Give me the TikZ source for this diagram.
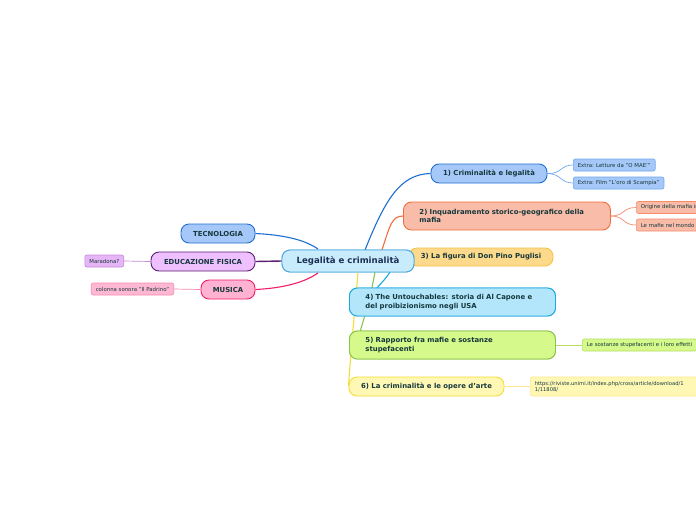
\documentclass[tikz,border=0pt]{standalone}
\usepackage{fontspec}
\setmainfont{DejaVu Sans}
\definecolor{txt}{HTML}{15383C}
\definecolor{ctxt}{HTML}{1C2F55}
\definecolor{cfill}{HTML}{C9ECFC}\definecolor{cdraw}{HTML}{4EA8DE}
\definecolor{bfill}{HTML}{A6C8F8}\definecolor{bdraw}{HTML}{1F6FD1}\definecolor{bsub}{HTML}{6FA6EF}
\definecolor{sfill}{HTML}{F9BCA8}\definecolor{sdraw}{HTML}{F26D3D}\definecolor{ssub}{HTML}{F58D6C}
\definecolor{ofill}{HTML}{FDD98B}\definecolor{odraw}{HTML}{F6C445}
\definecolor{lfill}{HTML}{B3E6FB}\definecolor{ldraw}{HTML}{1BA9E3}
\definecolor{gfill}{HTML}{D5F98A}\definecolor{gdraw}{HTML}{8BC34A}\definecolor{gsub}{HTML}{B5DE63}
\definecolor{yfill}{HTML}{FFF8B5}\definecolor{ydraw}{HTML}{F5DC35}\definecolor{ysub}{HTML}{FBE98B}
\definecolor{pfill}{HTML}{EEC0FF}\definecolor{pdraw}{HTML}{5C1F73}\definecolor{psfill}{HTML}{E6B5F5}\definecolor{psub}{HTML}{C589DA}
\definecolor{mfill}{HTML}{FFB2D1}\definecolor{mdraw}{HTML}{EF1D6A}\definecolor{msfill}{HTML}{FFB8D3}\definecolor{msub}{HTML}{F78AB0}
\tikzset{
  mainbox/.style={draw, line width=0.9pt, rounded corners=8pt, inner sep=0pt, text=txt,
     font=\fontsize{6.9}{8.6}\selectfont\bfseries},
  subbox/.style={draw, line width=0.6pt, rounded corners=2pt, inner xsep=4.5pt, inner ysep=0pt, text=txt,
     font=\fontsize{5.4}{6.2}\selectfont, minimum height=12pt},
  mainline/.style={line width=1.1pt},
  subline/.style={line width=0.7pt},
  cbox/.style={mainbox, fill=cfill, draw=cdraw, minimum width=132pt, minimum height=22pt,
      font=\fontsize{8.6}{9}\selectfont\bfseries, text=ctxt},
  b4box/.style={mainbox, fill=lfill, draw=ldraw, anchor=west, minimum height=28pt, inner xsep=16pt,
      text width=174pt, align=left},
  b5box/.style={mainbox, fill=gfill, draw=gdraw, anchor=west, minimum height=28pt, inner xsep=16pt,
      text width=174pt, align=left},
}
\begin{document}
\begin{tikzpicture}[x=1pt,y=-1pt]
\useasboundingbox (0,0) rectangle (696,520);
\clip (0,0) rectangle (696,520);
\fill[white] (0,0) rectangle (696,520);

\coordinate (c1) at (365,250);
\coordinate (c2) at (382,250);
\coordinate (c4) at (390,272);
\coordinate (c5) at (375,272);
\coordinate (c6) at (358,272);
\coordinate (cl1) at (318,249);
\coordinate (cl3) at (318,273);

% nodes
\node[mainbox, fill=ofill, draw=odraw, minimum width=144pt, minimum height=18pt] (b3) at (481,257) {3) La figura di Don Pino Puglisi};
\node[cbox] (c) at (348,261) {Legalità e criminalità};

\node[mainbox, fill=bfill, draw=bdraw, minimum width=116pt, minimum height=19pt] (b1) at (489,173.5) {1) Criminalità e legalità};
\node[subbox, fill=bfill, draw=bsub, anchor=west] (e1) at (573,165) {Extra: Letture da "O MAE'"};
\node[subbox, fill=bfill, draw=bsub, anchor=west] (e2) at (573,183) {Extra: Film "L'oro di Scampia"};

\node[mainbox, fill=sfill, draw=sdraw, anchor=west, minimum height=28pt, inner xsep=16pt,
      text width=175pt, align=left] (b2) at (403,216) {2) Inquadramento storico-geografico della\\mafia};
\node[subbox, fill=sfill, draw=ssub, anchor=west] (s1) at (636,207.5) {Origine della mafia in Italia};
\node[subbox, fill=sfill, draw=ssub, anchor=west] (s2) at (636,225) {Le mafie nel mondo\hspace*{12pt}};

\node[b4box] (b4) at (349,302) {4) The Untouchables: storia di Al Capone e\\del proibizionismo negli USA};
\node[b5box] (b5) at (349,345) {5) Rapporto fra mafie e sostanze\\stupefacenti};
\node[subbox, fill=gfill, draw=gsub, anchor=west] (g1) at (582,345) {Le sostanze stupefacenti e i loro effetti};

\node[mainbox, fill=yfill, draw=ydraw, minimum width=155pt, minimum height=19pt] (b6) at (426.5,386.5) {6) La criminalità e le opere d'arte};
\node[subbox, fill=yfill, draw=ysub, anchor=west, minimum height=19pt, text width=200pt, align=left,
      font=\fontsize{5.2}{6}\selectfont] (y1) at (530,386.5) {https://riviste.unimi.it/index.php/cross/article/download/1\\1/11808/};

\node[mainbox, fill=bfill, draw=bdraw, minimum width=74pt, minimum height=19pt] (t) at (218,233.5) {TECNOLOGIA};
\node[mainbox, fill=pfill, draw=pdraw, minimum width=104pt, minimum height=19pt] (ef) at (203,261.5) {EDUCAZIONE FISICA};
\node[subbox, fill=psfill, draw=psub, anchor=east] (mar) at (124,261) {Maradona?};
\node[mainbox, fill=mfill, draw=mdraw, minimum width=54pt, minimum height=19pt] (mu) at (228,289.5) {MUSICA};
\node[subbox, fill=msfill, draw=msub, anchor=east] (cs) at (174,289) {colonna sonora "Il Padrino"};

% main connectors
\draw[mainline, bdraw] (c1) .. controls (385,200) and (400,174) .. (b1.west);
\draw[mainline, sdraw] (c2) .. controls (390,225) and (392,216) .. (b2.west);
\draw[mainline, ldraw] (c4) .. controls (385,280) and (380,284) .. (377,288);
\draw[mainline, gdraw] (c5) .. controls (370,300) and (364,318) .. (360,332);
\draw[mainline, ydraw] (c6) .. controls (354,320) and (350,360) .. (b6.west);
\draw[mainline, bdraw] (t.east) .. controls (285,235) and (305,240) .. (cl1);
\draw[mainline, pdraw, line width=1.4pt] (ef.east) -- (c.west);
\draw[mainline, mdraw] (mu.east) .. controls (285,288) and (305,282) .. (cl3);

% sub connectors
\draw[subline, bsub] (b1.east) .. controls (562,174) and (560,165) .. (e1.west);
\draw[subline, bsub] (b1.east) .. controls (562,174) and (560,183) .. (e2.west);
\draw[subline, ssub] (b2.east) .. controls (625,216) and (622,207.5) .. (s1.west);
\draw[subline, ssub] (b2.east) .. controls (625,216) and (622,225) .. (s2.west);
\draw[subline, gsub] (b5.east) -- (g1.west);
\draw[subline, ysub] (b6.east) -- (y1.west);
\draw[subline, psub] (ef.west) -- (mar.east);
\draw[subline, msub] (mu.west) -- (cs.east);

% nodes that sit over connector ends, redrawn on top
\node[cbox] at (c) {Legalità e criminalità};
\node[b4box] at (349,302) {4) The Untouchables: storia di Al Capone e\\del proibizionismo negli USA};
\node[b5box] at (349,345) {5) Rapporto fra mafie e sostanze\\stupefacenti};
\end{tikzpicture}
\end{document}
